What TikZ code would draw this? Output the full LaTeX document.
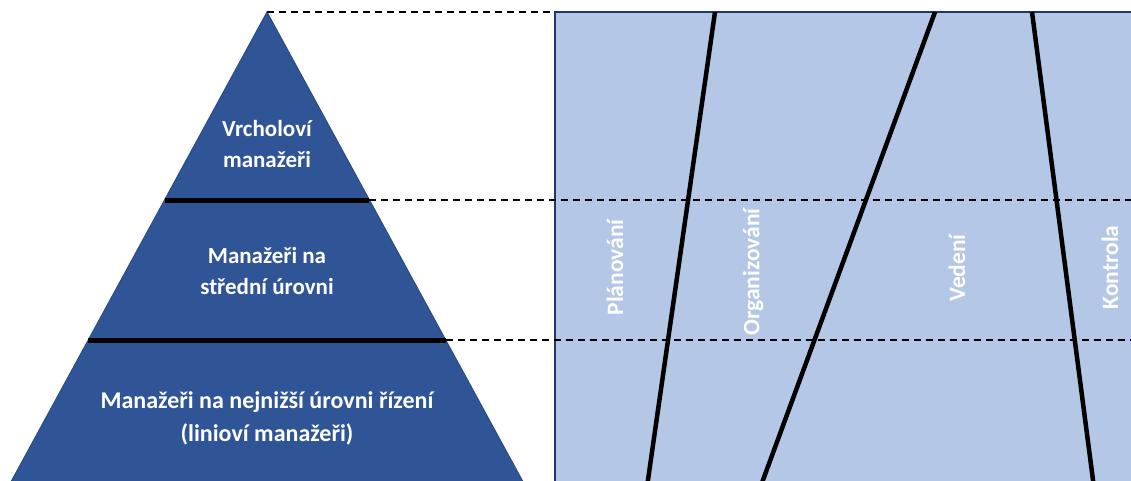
\documentclass[tikz,border=0pt]{standalone}
\usepackage{fontspec}
\setmainfont{Carlito}
\definecolor{pyrfill}{HTML}{2F5597}
\definecolor{pyredge}{HTML}{2A4C86}
\definecolor{panelfill}{HTML}{B4C7E7}
\definecolor{paneledge}{HTML}{203864}
\begin{document}
\begin{tikzpicture}[x=1pt,y=-1pt,
  lbl/.style={text=white,font=\bfseries\fontsize{23}{31}\selectfont,align=center,inner sep=0pt},
  widelbl/.style={lbl,font=\bfseries\fontsize{24}{33}\selectfont},
  vlbl/.style={text=white,font=\bfseries\fontsize{23.5}{28}\selectfont,rotate=90,inner sep=0pt},
  levelline/.style={line width=5pt,line cap=butt},
  guide/.style={line width=2pt,dash pattern=on 7pt off 5pt},
  phaseline/.style={line width=4.5pt}]
\useasboundingbox (0,0) rectangle (1131,480);
\begin{scope}
  \clip (0,0) rectangle (1131,480);
  % functions panel
  \fill[panelfill] (555,12) rectangle (1145,495);
  \draw[paneledge,line width=2pt] (555,495) -- (555,12) -- (1145,12);
  % management pyramid
  \coordinate (apex) at (267,12);
  \coordinate (baseL) at ({267-0.545*483},495);
  \coordinate (baseR) at ({267+0.545*483},495);
  \filldraw[fill=pyrfill,draw=pyredge,line width=1pt] (apex) -- (baseL) -- (baseR) -- cycle;
  % level boundaries
  \coordinate (l1L) at ({267-0.545*188},200);
  \coordinate (l1R) at ({267+0.545*188},200);
  \coordinate (l2L) at ({267-0.545*328},340);
  \coordinate (l2R) at ({267+0.545*328},340);
  \draw[levelline] (l1L) -- (l1R);
  \draw[levelline] (l2L) -- (l2R);
  % guides across to the panel
  \coordinate (g0) at (555,12);
  \coordinate (g1) at (1131,200);
  \coordinate (g2) at (1131,340);
  \draw[guide] (apex) -- (g0);
  \draw[guide] (l1R) -- (g1);
  \draw[guide] (l2R) -- (g2);
  % boundaries between management functions
  \coordinate (p1t) at (715,12);
  \coordinate (p1b) at ({715-0.1432*478},490);
  \coordinate (p2t) at (935,12);
  \coordinate (p2b) at ({935-0.3675*478},490);
  \coordinate (p3t) at (1032,12);
  \coordinate (p3b) at ({1032+0.1303*478},490);
  \draw[phaseline] (p1t) -- (p1b);
  \draw[phaseline] (p2t) -- (p2b);
  \draw[phaseline] (p3t) -- (p3b);
\end{scope}
% level labels
\node[lbl] (top) at (267,144) {Vrcholoví\\manažeři};
\node[lbl] (mid) at (267,271) {Manažeři na\\střední úrovni};
\node[widelbl] (low) at (267,418) {Manažeři na nejnižší úrovni řízení\\(linioví manažeři)};
% function labels
\node[vlbl] (plan) at (615,267.5) {Plánování};
\node[vlbl] (org) at (753,272) {Organizování};
\node[vlbl] (lead) at (957,268) {Vedení};
\node[vlbl] (ctrl) at (1110,267.5) {Kontrola};
\end{tikzpicture}
\end{document}
